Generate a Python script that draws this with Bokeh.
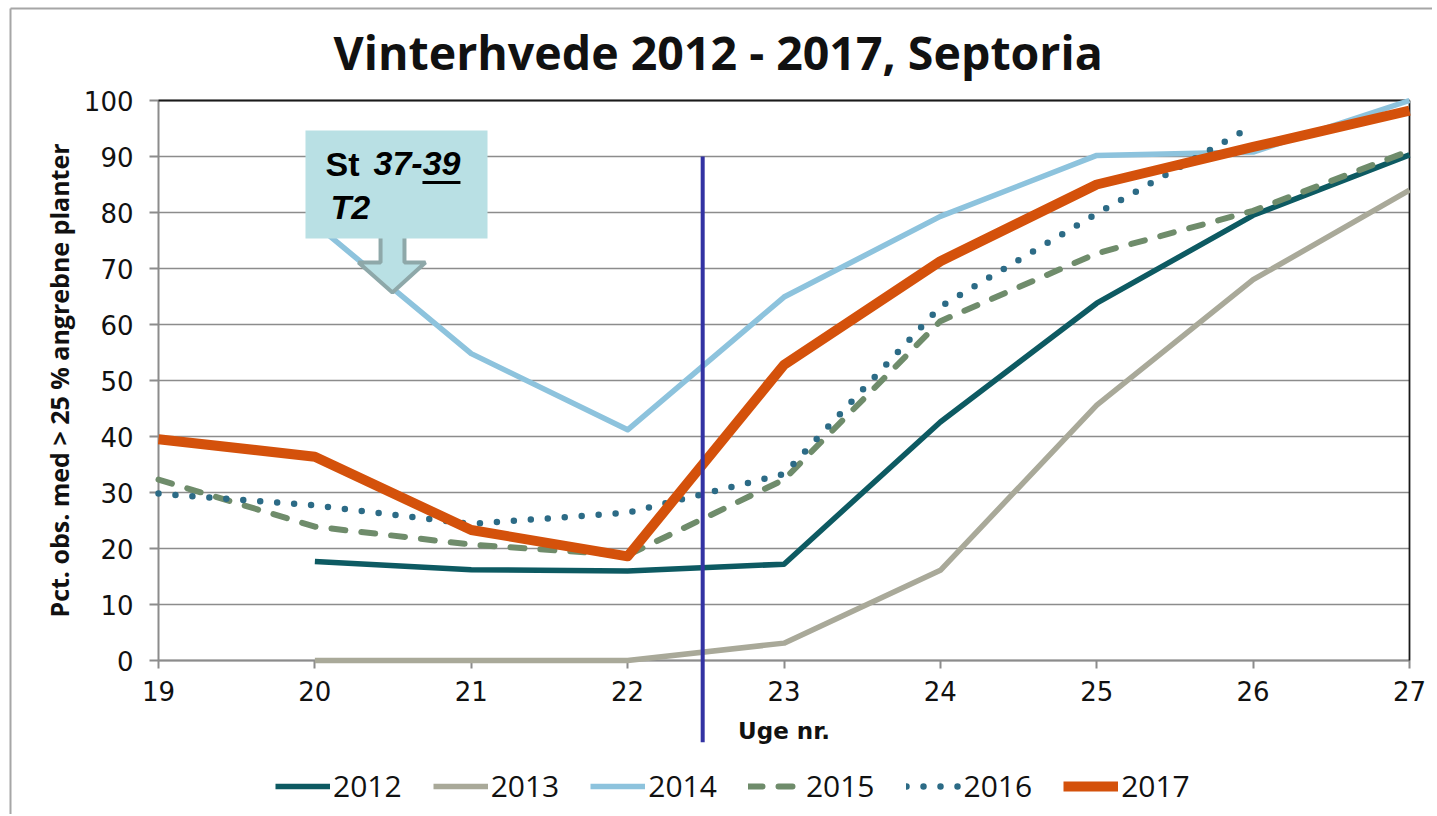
import math
from bokeh.plotting import figure
from bokeh.models import Legend, LegendItem, Label, PolyAnnotation, BoxAnnotation, FixedTicker
from bokeh.embed import file_html
from bokeh.resources import INLINE

# ---------------- data ----------------
weeks = [19, 20, 21, 22, 23, 24, 25, 26, 27]
years = ["2012", "2013", "2014", "2015", "2016", "2017"]
s2012 = [None, 17.7, 16.2, 16.0, 17.2, 42.6, 63.8, 79.5, 90.3]
s2013 = [None, 0.0, 0.0, 0.0, 3.1, 16.1, 45.6, 68.0, 84.0]
s2014 = [None, 78.0, 54.8, 41.2, 64.9, 79.3, 90.2, 90.8, 100.0]
s2015 = [32.3, 23.9, 20.7, 18.8, 32.3, 60.6, 72.7, 80.3, 91.0]
s2016 = [29.8, 27.7, 24.4, 26.4, 33.3, 63.2, 79.8, 95.5, None]
s2017 = [39.5, 36.4, 23.3, 18.6, 52.8, 71.3, 85.0, 91.7, 98.2]
series = [s2012, s2013, s2014, s2015, s2016, s2017]
y_ticks = [0, 10, 20, 30, 40, 50, 60, 70, 80, 90, 100]

title_text = "Vinterhvede 2012 - 2017, Septoria"
y_label = "Pct. obs. med > 25 % angrebne planter"
x_label = "Uge nr."
marker_week = 22.48      # vertical marker line
marker_top = 90
marker_bottom = -14.6
callout_line1a = "St"
callout_line1b = "37-39"
callout_line2 = "T2"

# ---------------- layout ----------------
W, H = 1432, 814
top_px = 100                                      # where 100 % sits
axis_left_px, axis_right_px = 158, 1409           # where weeks 19 and 27 sit
plot_px = 560                                     # pixels from 0 to 100 on the y axis
x_first, x_last = weeks[0], weeks[-1]
px_per_week = (axis_right_px - axis_left_px) / (x_last - x_first)
x_lo = x_first - axis_left_px / px_per_week
x_hi = x_last + (W - axis_right_px) / px_per_week
y_lo_val, y_hi_val = y_ticks[0], y_ticks[-1]
units_per_px = (y_hi_val - y_lo_val) / plot_px
y_min = y_lo_val - (H - top_px - plot_px) * units_per_px
y_max = y_hi_val + top_px * units_per_px

colors = ["#0D5A62", "#A9A999", "#8DC3DD", "#6F8C6B", "#2C6B86", "#D4510B"]
widths = [5.5, 5.5, 5.5, 6, 6.5, 10]
dashes = ["solid", "solid", "solid", "14 16", "0 17", "solid"]

p = figure(width=W, height=H, x_range=(x_lo, x_hi), y_range=(y_min, y_max),
           output_backend="svg", toolbar_location=None, title=None,
           min_border_left=0, min_border_right=0, min_border_top=0,
           min_border_bottom=0)
p.background_fill_color = "white"
p.border_fill_color = "white"
p.outline_line_color = None
p.xgrid.visible = False
p.ygrid.visible = False

for ax in (p.xaxis, p.yaxis):
    ax.level = "underlay"
    ax.axis_line_color = "#8C8C8C"
    ax.axis_line_width = 2
    ax.major_tick_line_color = "#8C8C8C"
    ax.major_tick_line_width = 2
    ax.major_tick_in = 0
    ax.minor_tick_line_color = None
    ax.major_label_text_font = "DejaVu Sans"
    ax.major_label_text_font_size = "26px"
    ax.major_label_text_color = "#111111"

p.xaxis.fixed_location = y_lo_val
p.xaxis.bounds = (x_first, x_last)
p.xaxis.ticker = FixedTicker(ticks=weeks)
p.xaxis.major_tick_out = 8
p.xaxis.major_label_standoff = 12

p.yaxis.fixed_location = x_first
p.yaxis.bounds = (y_lo_val, y_hi_val)
p.yaxis.ticker = FixedTicker(ticks=y_ticks)
p.yaxis.major_tick_out = 9
p.yaxis.major_label_standoff = 16

# outer frame of the chart object (top and left edges)
bx = x_lo + 10 / px_per_week
by = y_max - 8 * units_per_px
p.segment(x0=[bx, bx], y0=[by, by], x1=[x_hi, bx], y1=[by, y_min],
          line_color="#A6A6A6", line_width=2)

# horizontal grid lines limited to the plot area
n = len(y_ticks)
p.segment(x0=[x_first] * n, y0=y_ticks, x1=[x_last] * n, y1=y_ticks,
          line_color="#8C8C8C", line_width=1.5)
# dark top and right edges of the plot area
p.segment(x0=[x_first, x_last], y0=[y_hi_val, y_lo_val], x1=[x_last, x_last],
          y1=[y_hi_val, y_hi_val], line_color="#1a1a1a", line_width=1.8)

# chart title and axis titles
p.add_layout(Label(x=x_first, y=y_hi_val, x_offset=333 - axis_left_px, y_offset=49,
                   text=title_text, text_align="left", text_baseline="middle",
                   text_font="Open Sans", text_font_style="bold", text_font_size="46.5px",
                   text_color="#111111"))
p.add_layout(Label(x=x_first, y=(y_lo_val + y_hi_val) / 2, x_offset=-100, text=y_label,
                   angle=math.pi / 2, text_align="center", text_baseline="middle",
                   text_font="Open Sans", text_font_style="bold", text_font_size="25px",
                   text_color="#111111"))
p.add_layout(Label(x=(x_first + x_last) / 2, y=y_lo_val, y_offset=-70, text=x_label,
                   text_align="center", text_baseline="middle",
                   text_font="DejaVu Sans", text_font_style="bold", text_font_size="23px",
                   text_color="#111111"))

items = []
for yr, vals, c, w, d in zip(years, series, colors, widths, dashes):
    xs = [wk for wk, v in zip(weeks, vals) if v is not None]
    ys = [v for v in vals if v is not None]
    r = p.line(xs, ys, line_color=c, line_width=w, line_dash=d,
               line_join="round", line_cap="round" if d != "solid" else "butt")
    items.append(LegendItem(label=yr, renderers=[r]))

legend = Legend(items=items, orientation="horizontal", location=(275, 8),
                glyph_width=55, glyph_height=20, label_standoff=3, spacing=31,
                padding=0, margin=0, border_line_color=None,
                background_fill_alpha=0,
                label_text_font="Open Sans", label_text_font_size="30px",
                label_text_color="#111111")
p.add_layout(legend)

# vertical marker line (extends below the axis)
p.add_layout(PolyAnnotation(xs=[marker_week, marker_week], ys=[marker_top, marker_bottom],
                            fill_alpha=0, line_color="#3333A3", line_alpha=1, line_width=4))

# callout box with arrow
box_l, box_r, box_t, box_b = 19.94, 21.104, 94.64, 75.36
arrow_xs = [20.42, 20.42, 20.279, 20.496, 20.707, 20.573, 20.573]
arrow_ys = [76.5, 71.07, 71.07, 65.71, 71.07, 71.07, 76.5]
p.add_layout(PolyAnnotation(xs=arrow_xs, ys=arrow_ys, fill_color="#B9E0E4",
                            fill_alpha=1, line_color="#8EA8A9", line_alpha=1, line_width=4))
p.add_layout(BoxAnnotation(left=box_l, right=box_r, top=box_t, bottom=box_b,
                           fill_color="#B9E0E4", fill_alpha=1, line_color=None))
common = dict(x=box_l, y=box_t, text_font="Liberation Sans", text_font_size="34px",
              text_color="#000000", text_baseline="alphabetic")
p.add_layout(Label(text=callout_line1a, x_offset=20, y_offset=-33,
                   text_font_style="bold", **common))
p.add_layout(Label(text=callout_line1b, x_offset=68, y_offset=-33,
                   text_font_style="bold italic", **common))
p.add_layout(Label(text=callout_line2, x_offset=25, y_offset=-76,
                   text_font_style="bold italic", **common))
p.add_layout(PolyAnnotation(xs=[20.688, 20.931], ys=[85.36, 85.36], fill_alpha=0,
                            line_color="#000000", line_alpha=1, line_width=3))

open("out.html", "w").write(file_html(p, INLINE))
